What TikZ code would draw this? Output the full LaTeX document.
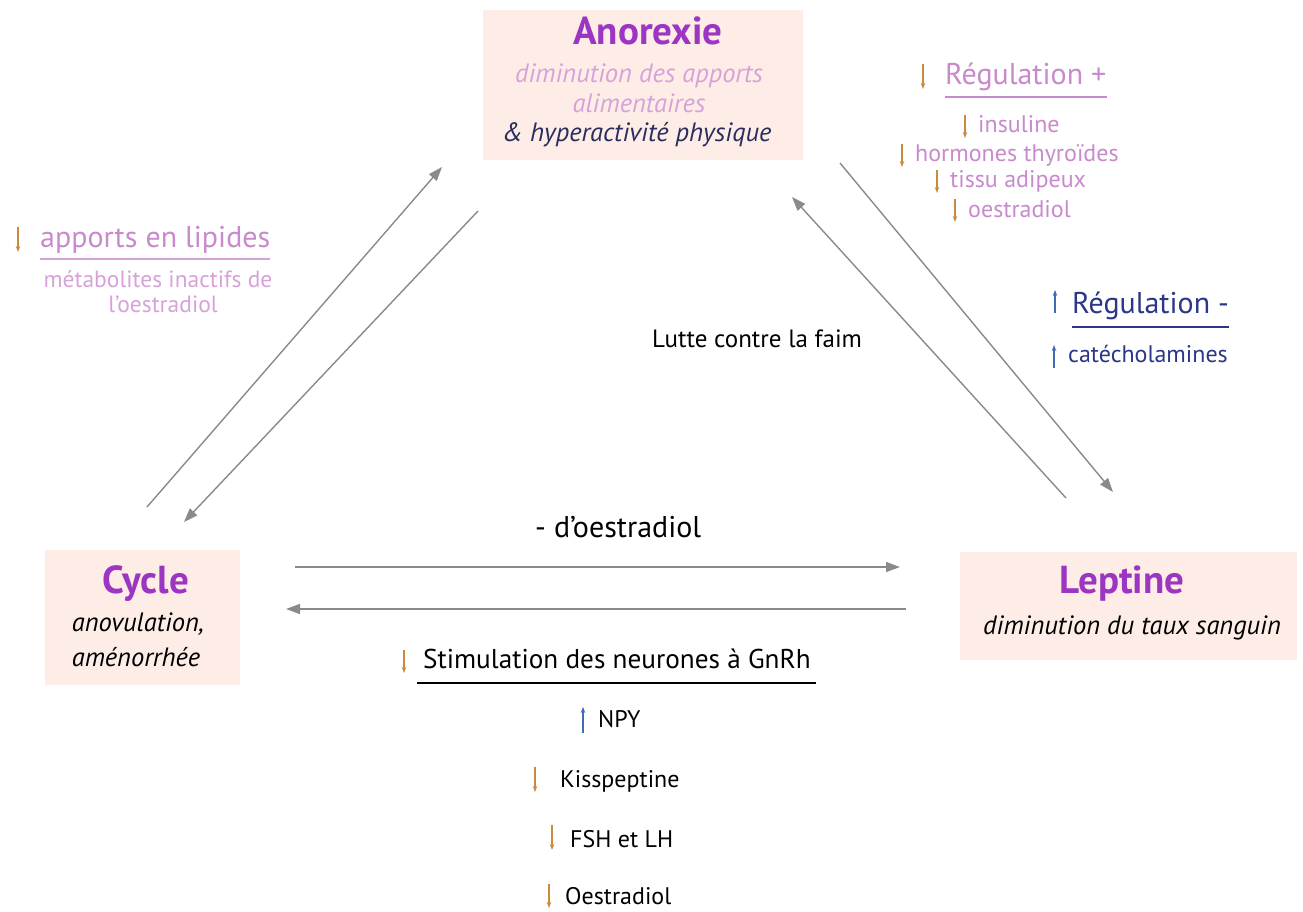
\documentclass[tikz,border=0pt]{standalone}
\usepackage{fontspec}
\setmainfont{PT Sans}
\usetikzlibrary{arrows.meta}
\definecolor{boxfill}{HTML}{FDEDE6}
\definecolor{titlepurple}{HTML}{9B35C2}
\definecolor{lightpink}{HTML}{D7A2DA}
\definecolor{midpink}{HTML}{C98ACD}
\definecolor{navy}{HTML}{2B3787}
\definecolor{darkblue}{HTML}{2A2E5E}
\definecolor{arrorange}{HTML}{C98B3C}
\definecolor{arrblue}{HTML}{3F6AB5}
\definecolor{conngray}{HTML}{8A8A8A}
\tikzset{
  x=1pt, y=-1pt,
  box/.style={fill=boxfill, draw=none, inner sep=0pt},
  ttl/.style={font=\fontsize{39}{42}\selectfont\bfseries, text=titlepurple, inner sep=0pt, anchor=base},
  itl/.style={font=\fontsize{26.5}{30}\selectfont\itshape, inner sep=0pt, anchor=base},
  lbl/.style={font=\fontsize{24}{27}\selectfont, inner sep=0pt, anchor=base west},
  hd/.style={font=\fontsize{30}{33}\selectfont, inner sep=0pt, anchor=base west},
  conn/.style={draw=conngray, line width=1.4pt, -{Triangle[length=14pt,width=10pt]}},
  dnarr/.style={draw=arrorange, line width=1.2pt, -{Stealth[length=6pt,width=4.5pt]}},
  uparr/.style={draw=arrblue, line width=1.2pt, -{Stealth[length=6pt,width=4.5pt]}},
}
\begin{document}
\begin{tikzpicture}
\useasboundingbox (0,0) rectangle (1303,912);
\fill[white] (0,0) rectangle (1303,912);

% boxes
\node[box, minimum width=320pt, minimum height=150pt, anchor=north west] (anobox) at (483,10) {};
\node[box, minimum width=195pt, minimum height=135pt, anchor=north west] (cycbox) at (45,550) {};
\node[box, minimum width=337pt, minimum height=108pt, anchor=north west] (lepbox) at (960,552) {};

% Anorexie
\node[ttl] (anot) at (648,45) {Anorexie};
\node[itl, text=lightpink] (ano1) at (639,83) {diminution des apports};
\node[itl, text=lightpink] (ano2) at (639,113) {alimentaires};
\node[itl, text=darkblue] (ano3) at (637,142) {\& hyperactivité physique};

% Cycle
\node[ttl] (cyct) at (146,593) {Cycle};
\node[itl] (cyc1) at (138,631) {anovulation,};
\node[itl] (cyc2) at (136,666) {aménorrhée};

% Leptine
\node[ttl] (lept) at (1122,593) {Leptine};
\node[itl] (lep1) at (1132,634) {diminution du taux sanguin};

% connectors
\coordinate (a1s) at (147,507); \coordinate (a1e) at (442,167);
\coordinate (a2s) at (478,211); \coordinate (a2e) at (184,522);
\coordinate (a3s) at (840,163); \coordinate (a3e) at (1113,492);
\coordinate (a4s) at (1066,498); \coordinate (a4e) at (792,197);
\coordinate (a5s) at (295,567); \coordinate (a5e) at (900,567);
\coordinate (a6s) at (906,609); \coordinate (a6e) at (286,609);
\draw[conn] (a1s) -- (a1e);
\draw[conn] (a2s) -- (a2e);
\draw[conn] (a3s) -- (a3e);
\draw[conn] (a4s) -- (a4e);
\draw[conn] (a5s) -- (a5e);
\draw[conn] (a6s) -- (a6e);

% middle labels
\node[hd] (oest) at (535,537) {- d'oestradiol};
\node[lbl, font=\fontsize{25}{28}\selectfont] (lutte) at (652,347) {Lutte contre la faim};

% left: apports en lipides
\node[hd, text=midpink] (lip) at (40,247) {apports en lipides};
\draw[lightpink, line width=1.3pt] ([yshift=-12pt]lip.base west) -- ([yshift=-12pt]lip.base east);
\draw[dnarr] ([xshift=-22pt,yshift=20pt]lip.base west) -- ([xshift=-22pt,yshift=-5pt]lip.base west);
\node[lbl, text=lightpink, anchor=base, font=\fontsize{23.5}{26}\selectfont] (lip1) at (158,287) {métabolites inactifs de};
\node[lbl, text=lightpink, anchor=base, font=\fontsize{23.5}{26}\selectfont] (lip2) at (163,312) {l'oestradiol};

% top right: Régulation +
\node[hd, text=midpink] (regp) at (945,85) {Régulation +};
\draw[midpink, line width=1.3pt] ([yshift=-12pt]regp.base west) -- ([yshift=-12pt]regp.base east);
\draw[dnarr] ([xshift=-22pt,yshift=21pt]regp.base west) -- ([xshift=-22pt,yshift=-4pt]regp.base west);
\node[lbl, text=midpink] (ins) at (978,133) {insuline};
\node[lbl, text=midpink] (hor) at (915,162) {hormones thyroïdes};
\node[lbl, text=midpink] (tis) at (950,188) {tissu adipeux};
\node[lbl, text=midpink] (oes) at (968,217) {oestradiol};
\foreach \n in {ins,hor,tis,oes}{
  \draw[dnarr] ([xshift=-13pt,yshift=18pt]\n.base west) -- ([xshift=-13pt,yshift=-5pt]\n.base west);
}

% right: Régulation -
\node[hd, text=navy] (regm) at (1072,313) {Régulation -};
\draw[navy, line width=1.3pt] ([yshift=-14pt]regm.base west) -- ([yshift=-14pt]regm.base east);
\draw[uparr] ([xshift=-17pt]regm.base west) -- ([xshift=-17pt,yshift=23pt]regm.base west);
\node[lbl, text=navy] (cat) at (1068,362) {catécholamines};
\draw[uparr] ([xshift=-14pt,yshift=-6pt]cat.base west) -- ([xshift=-14pt,yshift=17pt]cat.base west);

% bottom: Stimulation
\node[font=\fontsize{27.2}{30}\selectfont, inner sep=0pt, anchor=base west] (stim) at (423,668) {Stimulation des neurones à GnRh};
\draw[black, line width=1.5pt] ([xshift=-6pt,yshift=-15pt]stim.base west) -- ([xshift=5pt,yshift=-15pt]stim.base east);
\draw[dnarr] ([xshift=-19pt,yshift=18pt]stim.base west) -- ([xshift=-19pt,yshift=-5pt]stim.base west);
\node[lbl] (npy) at (598,727) {NPY};
\draw[uparr] ([xshift=-15pt,yshift=-6pt]npy.base west) -- ([xshift=-15pt,yshift=20pt]npy.base west);
\node[lbl] (kis) at (560,787) {Kisspeptine};
\draw[dnarr] ([xshift=-25pt,yshift=20pt]kis.base west) -- ([xshift=-25pt,yshift=-5pt]kis.base west);
\node[lbl] (fsh) at (570,847) {FSH et LH};
\draw[dnarr] ([xshift=-18pt,yshift=22pt]fsh.base west) -- ([xshift=-18pt,yshift=-3pt]fsh.base west);
\node[lbl] (oe2) at (565,904) {Oestradiol};
\draw[dnarr] ([xshift=-16pt,yshift=20pt]oe2.base west) -- ([xshift=-16pt,yshift=-4pt]oe2.base west);
\end{tikzpicture}
\end{document}
